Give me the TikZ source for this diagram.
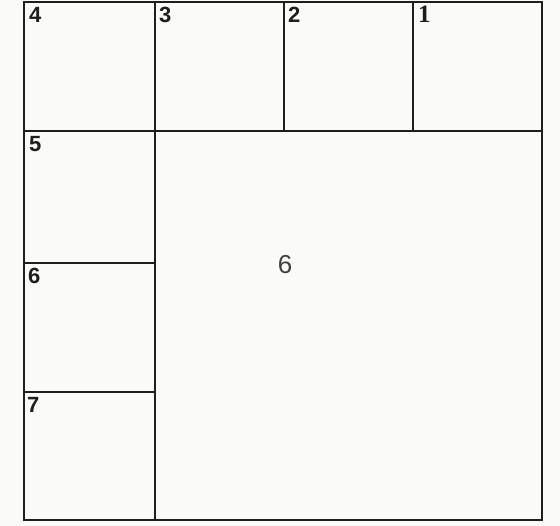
\documentclass[tikz,border=0pt]{standalone}
\usepackage{fontspec}
\setmainfont{Liberation Sans}
\newfontfamily\serifbold{Liberation Serif}
\definecolor{paper}{RGB}{250,250,247}
\definecolor{ink}{RGB}{30,30,30}
\begin{document}
\begin{tikzpicture}[x=1pt,y=-1pt,
  cell/.style={draw=ink,line width=1.8pt},
  lbl/.style={anchor=north west,inner sep=0pt,font=\fontsize{22}{22}\selectfont\bfseries,text=ink},
  biglbl/.style={inner sep=0pt,font=\fontsize{26}{26}\selectfont,text=ink!85}]
\path[use as bounding box,fill=paper] (0,0) rectangle (560,526);
% cells
\draw[cell] (24,2) rectangle (155,131);
\draw[cell] (155,2) rectangle (284,131);
\draw[cell] (284,2) rectangle (413,131);
\draw[cell] (413,2) rectangle (542,131);
\draw[cell] (24,131) rectangle (155,263);
\draw[cell] (24,263) rectangle (155,392);
\draw[cell] (24,392) rectangle (155,520);
\draw[cell] (155,131) rectangle (542,520);
% labels
\node[lbl] (l4) at (29,7) {4};
\node[lbl] (l3) at (159,7) {3};
\node[lbl] (l2) at (288,7) {2};
\node[lbl,font=\fontsize{25}{25}\selectfont\serifbold\bfseries] (l1) at (418,6) {1};
\node[lbl] (l5) at (29,136) {5};
\node[lbl] (l6) at (28,268) {6};
\node[lbl] (l7) at (27,397) {7};
\node[biglbl] (big) at (285,265) {6};
\end{tikzpicture}
\end{document}
